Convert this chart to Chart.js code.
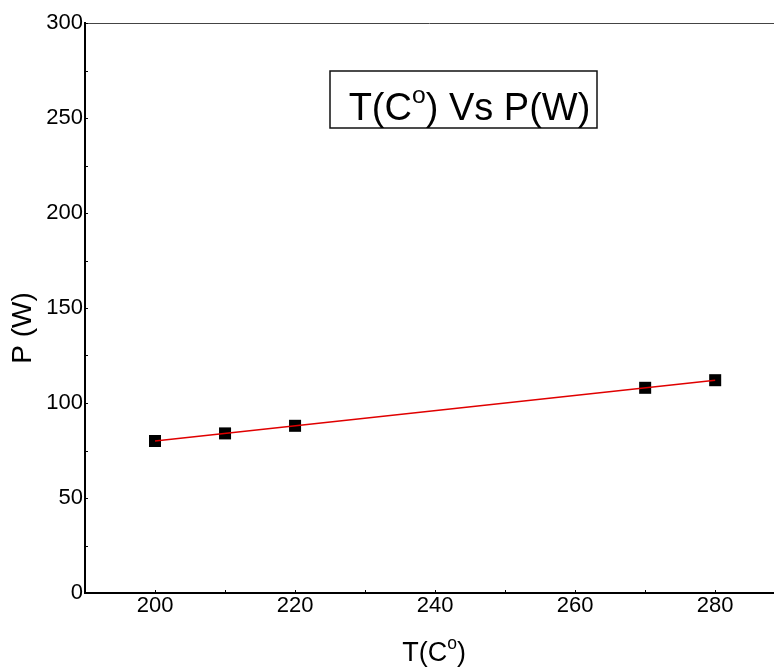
<!DOCTYPE html>
<html>
<head>
<meta charset="utf-8">
<script src="https://cdn.jsdelivr.net/npm/chart.js@4/dist/chart.umd.min.js"></script>
<style>
  html, body { margin: 0; padding: 0; background: #fff; }
  #wrap { width: 774px; height: 668px; }
</style>
</head>
<body>
<div id="wrap"><canvas id="myChart" width="774" height="668"></canvas></div>
<script>
// measured points, T (C) vs P (W)
const tempC = [200, 210, 220, 270, 280];
const powerW = [80, 84, 88, 108, 112];
// linear fit end points
const fitT = [200, 280];
const fitP = [80, 112];
const xTicks = [200, 220, 240, 260, 280];
const yTicks = [0, 50, 100, 150, 200, 250, 300];

const FONT = '"Liberation Sans", Arial, sans-serif';

// draws text with a superscript part, runs = [[text, isSup], ...]
function drawRuns(ctx, runs, x, y, size, align) {
  const supSize = size * 0.65;
  let total = 0;
  runs.forEach(r => {
    ctx.font = (r[1] ? supSize : size) + 'px ' + FONT;
    total += ctx.measureText(r[0]).width;
  });
  let cx = align === 'center' ? x - total / 2 : x;
  ctx.textAlign = 'left';
  ctx.textBaseline = 'alphabetic';
  runs.forEach(r => {
    ctx.font = (r[1] ? supSize : size) + 'px ' + FONT;
    ctx.fillText(r[0], cx, r[1] ? y - size * 0.45 : y);
    cx += ctx.measureText(r[0]).width;
  });
}

const extras = {
  id: 'extras',
  afterDraw(chart) {
    const ctx = chart.ctx;
    const a = chart.chartArea;
    const xs = chart.scales.x, ys = chart.scales.y;
    ctx.save();

    // top frame line
    ctx.strokeStyle = '#444';
    ctx.lineWidth = 1;
    ctx.beginPath();
    ctx.moveTo(a.left, a.top + 0.5);
    ctx.lineTo(a.right, a.top + 0.5);
    ctx.stroke();

    // small inside ticks
    ctx.strokeStyle = '#000';
    ctx.lineWidth = 1;
    ctx.beginPath();
    for (let v = 200; v <= xs.max; v += 10) {
      const px = Math.round(xs.getPixelForValue(v)) + 0.5;
      ctx.moveTo(px, a.bottom);
      ctx.lineTo(px, a.bottom - 3);
    }
    for (let v = 0; v <= ys.max; v += 25) {
      const py = Math.round(ys.getPixelForValue(v)) + 0.5;
      ctx.moveTo(a.left, py);
      ctx.lineTo(a.left + 3, py);
    }
    ctx.stroke();

    ctx.fillStyle = '#000';
    // x axis title
    drawRuns(ctx, [['T(C', false], ['o', true], [')', false]], xs.getPixelForValue(240) - 1, 661, 27, 'center');

    // y axis title
    ctx.save();
    ctx.translate(31, (a.top + a.bottom) / 2 + 20);
    ctx.rotate(-Math.PI / 2);
    ctx.font = '28px ' + FONT;
    ctx.textAlign = 'center';
    ctx.textBaseline = 'alphabetic';
    ctx.fillText('P (W)', 0, 0);
    ctx.restore();

    // boxed title
    const bx = a.left + 245, by = a.top + 48, bw = 267, bh = 57;
    ctx.strokeStyle = '#111';
    ctx.lineWidth = 1.5;
    ctx.strokeRect(bx, by, bw, bh);
    drawRuns(ctx, [['T(C', false], ['o', true], [') Vs P(W)', false]], bx + bw / 2 + 6, by + 49, 38, 'center');

    ctx.restore();
  }
};

const ctx = document.getElementById('myChart').getContext('2d');
const myChart = new Chart(ctx, {
  type: 'scatter',
  data: {
    datasets: [
      {
        label: 'fit',
        type: 'line',
        data: fitT.map((t, i) => ({ x: t, y: fitP[i] })),
        borderColor: '#e00000',
        borderWidth: 1.5,
        pointRadius: 0,
        fill: false,
        order: 0
      },
      {
        label: 'P',
        data: tempC.map((t, i) => ({ x: t, y: powerW[i] })),
        pointStyle: 'rect',
        pointRadius: 8.5,
        pointBackgroundColor: '#000',
        pointBorderColor: '#000',
        pointBorderWidth: 0,
        order: 1
      }
    ]
  },
  options: {
    responsive: false,
    animation: false,
    layout: { autoPadding: false, padding: { top: 23, left: 0, right: 0, bottom: 0 } },
    plugins: {
      legend: { display: false },
      tooltip: { enabled: false }
    },
    scales: {
      x: {
        type: 'linear',
        min: 190,
        max: 288.4,
        grid: { display: false, drawTicks: false },
        border: { display: true, color: '#000', width: 2 },
        afterBuildTicks: s => { s.ticks = xTicks.map(v => ({ value: v })); },
        afterFit: s => { s.height = 75; s.paddingRight = 0; s.paddingLeft = 0; },
        ticks: {
          padding: 0,
          color: '#000',
          font: { family: FONT, size: 22 }
        }
      },
      y: {
        min: 0,
        max: 300,
        grid: { display: false, drawTicks: false },
        border: { display: true, color: '#000', width: 2 },
        afterBuildTicks: s => { s.ticks = yTicks.map(v => ({ value: v })); },
        afterFit: s => { s.width = 85; s.paddingTop = 0; s.paddingBottom = 0; },
        ticks: {
          padding: 2,
          color: '#000',
          font: { family: FONT, size: 22 }
        }
      }
    }
  },
  plugins: [extras]
});
</script>
</body>
</html>
